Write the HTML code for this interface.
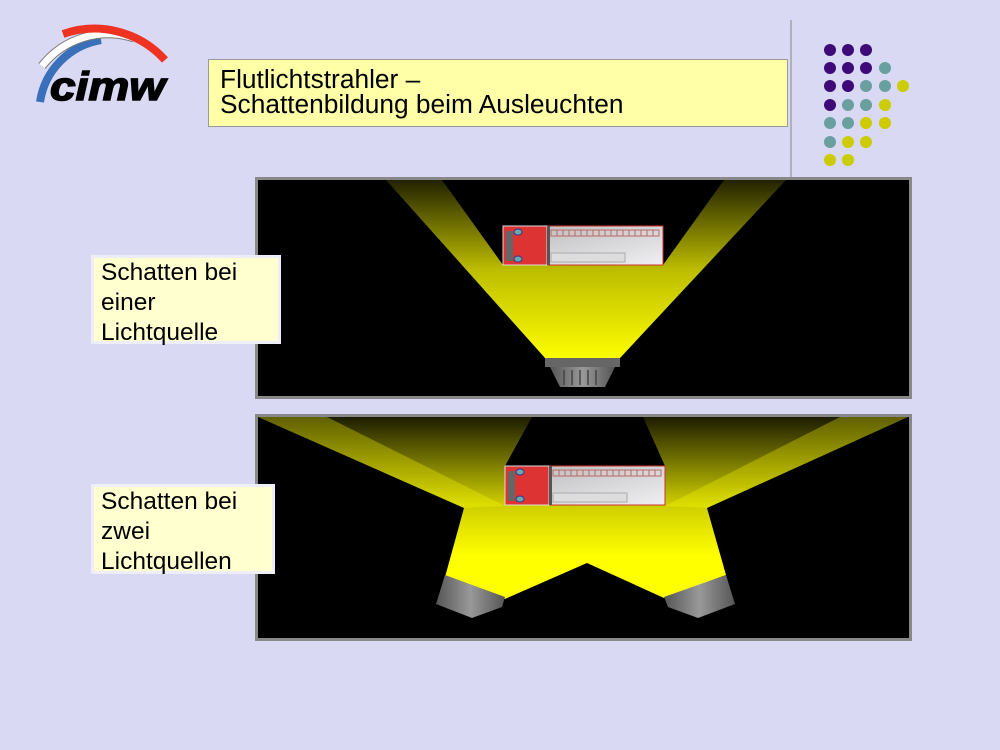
<!DOCTYPE html>
<html><head><meta charset="utf-8"><style>
html,body{margin:0;padding:0;background:#d9d9f3;}
body{width:1000px;height:750px;position:relative;overflow:hidden;font-family:"Liberation Sans",Arial,sans-serif;}
.t{position:absolute;background:#ffffa8;border:1px solid #999;box-sizing:border-box;font-size:26.3px;line-height:25px;color:#000;padding:7px 11px;}
.l{position:absolute;background:#ffffd0;border:3px solid #eeeef8;box-sizing:border-box;font-size:24.5px;line-height:30px;color:#000;padding:0 7px;}
</style></head><body>
<svg width="1000" height="750" style="position:absolute;left:0;top:0">
<defs>
<linearGradient id="g1" x1="0" y1="180" x2="0" y2="360" gradientUnits="userSpaceOnUse">
<stop offset="0" stop-color="#222200"/><stop offset="0.5" stop-color="#bdbd00"/><stop offset="1" stop-color="#ffff00"/></linearGradient>
<linearGradient id="g2" x1="0" y1="417" x2="0" y2="590" gradientUnits="userSpaceOnUse">
<stop offset="0" stop-color="#1c1c00"/><stop offset="0.5" stop-color="#cccc00"/><stop offset="0.8" stop-color="#ffff00"/></linearGradient>
<linearGradient id="tr" x1="0" y1="0" x2="1" y2="1"><stop offset="0" stop-color="#b8b8b8"/><stop offset="1" stop-color="#f0f0f4"/></linearGradient>
<linearGradient id="lp" x1="0" y1="0" x2="1" y2="0"><stop offset="0" stop-color="#555"/><stop offset="0.5" stop-color="#999"/><stop offset="1" stop-color="#555"/></linearGradient>
<g id="truck">
<rect x="0" y="0" width="160" height="39" fill="url(#tr)" stroke="#c33" stroke-width="1"/>
<rect x="0" y="0" width="44" height="39" fill="#dd3333" stroke="#ddd"/>
<rect x="3" y="5" width="7" height="30" fill="#666" rx="2"/>
<ellipse cx="15" cy="6" rx="4" ry="3" fill="#6aa" stroke="#339"/>
<ellipse cx="15" cy="33" rx="4" ry="3" fill="#6aa" stroke="#339"/>
<rect x="44" y="0" width="3" height="39" fill="#555"/>
<rect x="48" y="4" width="108" height="6" fill="none" stroke="#b66" stroke-width="1"/>
<path d="M54 4v6M60 4v6M66 4v6M72 4v6M78 4v6M84 4v6M90 4v6M96 4v6M102 4v6M108 4v6M114 4v6M120 4v6M126 4v6M132 4v6M138 4v6M144 4v6M150 4v6" stroke="#b66"/>
<rect x="48" y="27" width="74" height="9" fill="#ddd" stroke="#aaa"/>
</g>
</defs>
<path d="M40 102 A74 74 0 0 1 101 40" fill="none" stroke="#3a6fba" stroke-width="8"/>
<path d="M42 66 A84 84 0 0 1 134 38" fill="none" stroke="#777" stroke-width="9"/>
<path d="M42 66 A84 84 0 0 1 134 38" fill="none" stroke="#fff" stroke-width="7"/>
<path d="M63 34 A95 95 0 0 1 165 60" fill="none" stroke="#ee3322" stroke-width="8"/>
<text x="50" y="100" font-family="Liberation Sans" font-weight="bold" font-style="italic" font-size="40" fill="#000" textLength="115" lengthAdjust="spacingAndGlyphs" stroke="#000" stroke-width="1.5">cimw</text>
<line x1="791" y1="20" x2="791" y2="178" stroke="#888" stroke-width="1"/>
<g>
<circle cx="830" cy="50" r="6" fill="#3d0a78"/><circle cx="848" cy="50" r="6" fill="#3d0a78"/><circle cx="866" cy="50" r="6" fill="#3d0a78"/>
<circle cx="830" cy="68" r="6" fill="#3d0a78"/><circle cx="848" cy="68" r="6" fill="#3d0a78"/><circle cx="866" cy="68" r="6" fill="#3d0a78"/><circle cx="885" cy="68" r="6" fill="#6a9fa0"/>
<circle cx="830" cy="86" r="6" fill="#3d0a78"/><circle cx="848" cy="86" r="6" fill="#3d0a78"/><circle cx="866" cy="86" r="6" fill="#6a9fa0"/><circle cx="885" cy="86" r="6" fill="#6a9fa0"/><circle cx="903" cy="86" r="6" fill="#cccc00"/>
<circle cx="830" cy="105" r="6" fill="#3d0a78"/><circle cx="848" cy="105" r="6" fill="#6a9fa0"/><circle cx="866" cy="105" r="6" fill="#6a9fa0"/><circle cx="885" cy="105" r="6" fill="#cccc00"/>
<circle cx="830" cy="123" r="6" fill="#6a9fa0"/><circle cx="848" cy="123" r="6" fill="#6a9fa0"/><circle cx="866" cy="123" r="6" fill="#cccc00"/><circle cx="885" cy="123" r="6" fill="#cccc00"/>
<circle cx="830" cy="142" r="6" fill="#6a9fa0"/><circle cx="848" cy="142" r="6" fill="#cccc00"/><circle cx="866" cy="142" r="6" fill="#cccc00"/>
<circle cx="830" cy="160" r="6" fill="#cccc00"/><circle cx="848" cy="160" r="6" fill="#cccc00"/>
</g>
<rect x="256.5" y="178.5" width="654" height="219" fill="#000" stroke="#888" stroke-width="3"/>
<polygon points="386,180 786,180 620,358 545,358" fill="url(#g1)"/>
<polygon points="442,180 724,180 663,265 503,265" fill="#000"/>
<use href="#truck" x="503" y="226"/>
<rect x="545" y="358" width="75" height="9" fill="#666"/>
<polygon points="550,367 615,367 605,387 560,387" fill="url(#lp)"/>
<path d="M564 370v15M572 370v15M580 370v15M588 370v15M596 370v15" stroke="#444" stroke-width="1.5"/>
<rect x="256.5" y="415.5" width="654" height="224" fill="#000" stroke="#888" stroke-width="3"/>
<polygon points="258,417 532,417 505,466 665,466 643,417 908,417 707,508 726,575 664,598 587,563 505,599 445,577 464,508" fill="url(#g2)"/>
<polygon points="258,417 327,417 505,506 464,508" fill="#ffff00" opacity="0.3"/>
<polygon points="908,417 840,417 665,506 707,508" fill="#ffff00" opacity="0.3"/>
<use href="#truck" x="505" y="466"/>
<polygon points="445,575 505,597 502,607 472,618 436,604" fill="url(#lp)"/>
<polygon points="726,575 664,597 668,607 698,618 735,604" fill="url(#lp)"/>
</svg>
<div class="t" style="left:208px;top:59px;width:580px;height:68px;">Flutlichtstrahler –<br>Schattenbildung beim Ausleuchten</div>
<div class="l" style="left:91px;top:255px;width:190px;height:89px;">Schatten bei<br>einer<br>Lichtquelle</div>
<div class="l" style="left:91px;top:484px;width:184px;height:90px;">Schatten bei<br>zwei<br>Lichtquellen</div>
</body></html>
